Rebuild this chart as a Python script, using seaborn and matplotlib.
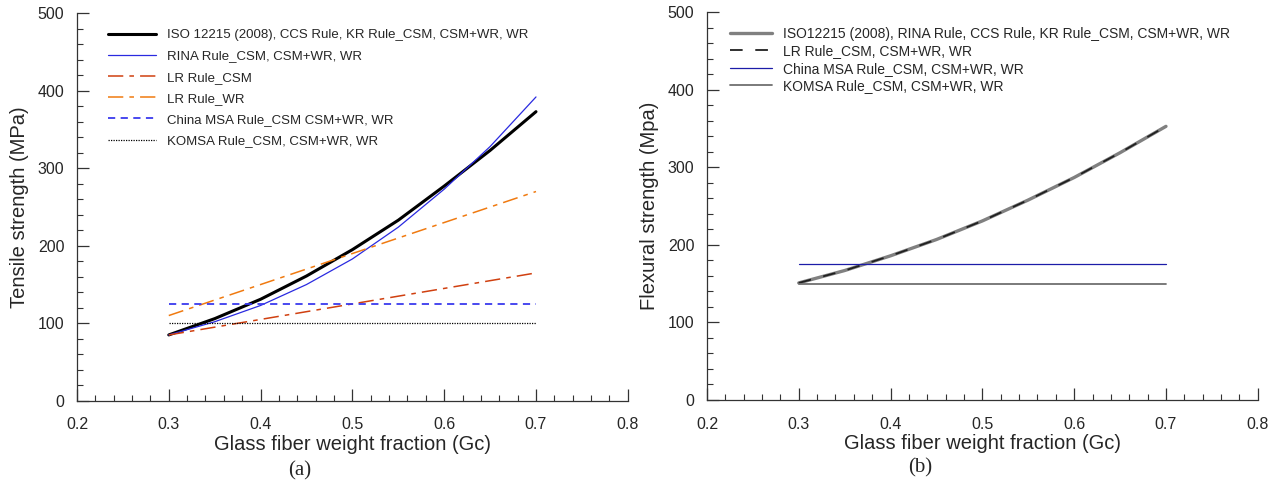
import matplotlib
matplotlib.use("Agg")
import matplotlib.pyplot as plt
import seaborn as sns
from matplotlib.ticker import MultipleLocator

# Glass fiber weight fraction sample points
gc = [0.30, 0.35, 0.40, 0.45, 0.50, 0.55, 0.60, 0.65, 0.70]

# (a) tensile strength, MPa
iso_tensile = [85, 106, 131, 161, 195, 233, 277, 323, 373]
rina_tensile = [85, 102, 123, 150, 183, 224, 273, 328, 392]
lr_csm_tensile = [85, 95, 105, 115, 125, 135, 145, 155, 165]
lr_wr_tensile = [110, 130, 150, 170, 190, 210, 230, 250, 270]
china_tensile = [125] * 9
komsa_tensile = [100] * 9

# (b) flexural strength, MPa
iso_flex = [151, 167, 186, 207, 231, 258, 287, 319, 353]
lr_flex = iso_flex
china_flex = [175] * 9
komsa_flex = [150] * 9

sns.set_style("ticks")
plt.rcParams["font.family"] = ["Liberation Sans", "DejaVu Sans"]
spine_col = "#333333"

fig = plt.figure(figsize=(12.87, 4.9), dpi=100)
ax1 = fig.add_axes([0.0598, 0.182, 0.428, 0.791])
ax2 = fig.add_axes([0.5493, 0.1837, 0.428, 0.791])

# Left panel
sns.lineplot(x=gc, y=iso_tensile, ax=ax1, color="black", lw=2.2,
             label="ISO 12215 (2008), CCS Rule, KR Rule_CSM, CSM+WR, WR")
sns.lineplot(x=gc, y=rina_tensile, ax=ax1, color="#2a2ae0", lw=0.9,
             label="RINA Rule_CSM, CSM+WR, WR")
sns.lineplot(x=gc, y=lr_csm_tensile, ax=ax1, color="#d04010", lw=1.1,
             dashes=(10, 4, 3, 4), label="LR Rule_CSM")
sns.lineplot(x=gc, y=lr_wr_tensile, ax=ax1, color="#f07a10", lw=1.1,
             dashes=(10, 4, 3, 4), label="LR Rule_WR")
sns.lineplot(x=gc, y=china_tensile, ax=ax1, color="#3a3aee", lw=1.3,
             dashes=(4, 3), label="China MSA Rule_CSM CSM+WR, WR")
sns.lineplot(x=gc, y=komsa_tensile, ax=ax1, color="black", lw=0.9,
             dashes=(1, 1), label="KOMSA Rule_CSM, CSM+WR, WR")
ax1.set_ylabel("Tensile strength (MPa)", fontsize=14.5, labelpad=6)

# Right panel
sns.lineplot(x=gc, y=iso_flex, ax=ax2, color="#808080", lw=2.4,
             label="ISO12215 (2008), RINA Rule, CCS Rule, KR Rule_CSM, CSM+WR, WR")
sns.lineplot(x=gc, y=lr_flex, ax=ax2, color="#202020", lw=1.3,
             dashes=(7, 7), label="LR Rule_CSM, CSM+WR, WR")
sns.lineplot(x=gc, y=china_flex, ax=ax2, color="#1c1ca8", lw=0.9,
             label="China MSA Rule_CSM, CSM+WR, WR")
sns.lineplot(x=gc, y=komsa_flex, ax=ax2, color="#707070", lw=1.3,
             label="KOMSA Rule_CSM, CSM+WR, WR")
ax2.set_ylabel("Flexural strength (Mpa)", fontsize=14.5, labelpad=6)

for ax in (ax1, ax2):
    ax.set_xlim(0.2, 0.8)
    ax.set_ylim(0, 500)
    ax.xaxis.set_major_locator(MultipleLocator(0.1))
    ax.xaxis.set_minor_locator(MultipleLocator(0.02))
    ax.yaxis.set_major_locator(MultipleLocator(100))
    ax.yaxis.set_minor_locator(MultipleLocator(20))
    ax.tick_params(which="major", direction="in", length=8.5, width=0.9,
                   labelsize=11.5, pad=9, color=spine_col)
    ax.tick_params(axis="x", which="major", pad=12)
    ax.tick_params(which="minor", direction="in", length=4, width=0.8,
                   color=spine_col)
    ax.set_xlabel("Glass fiber weight fraction (Gc)", fontsize=14.5, labelpad=2)
    sns.despine(ax=ax)
    for s in ("left", "bottom"):
        ax.spines[s].set_linewidth(0.9)
        ax.spines[s].set_color(spine_col)

ax1.legend(loc="upper left", bbox_to_anchor=(0.035, 0.99), frameon=False,
           fontsize=9.5, handlelength=3.6, handletextpad=0.9, labelspacing=0.68)
ax2.legend(loc="upper left", bbox_to_anchor=(0.02, 0.995), frameon=False,
           fontsize=10, handlelength=3.0, handletextpad=0.8, labelspacing=0.25)

fig.text(300 / 1287, 1 - 471 / 490, "(a)", family="Liberation Serif",
         fontsize=15, ha="center", va="center")
fig.text(920 / 1287, 1 - 468 / 490, "(b)", family="Liberation Serif",
         fontsize=15, ha="center", va="center")

fig.savefig("out.png", dpi=100)
